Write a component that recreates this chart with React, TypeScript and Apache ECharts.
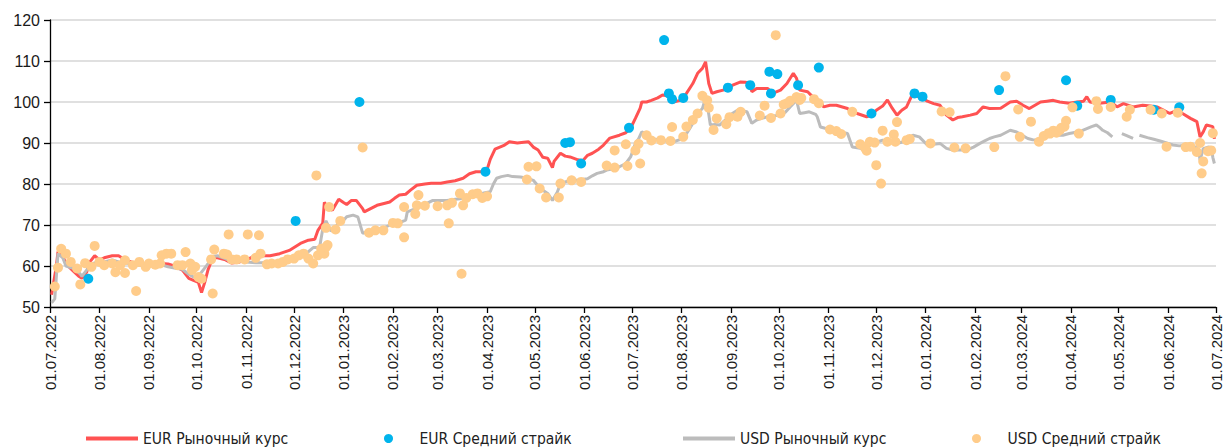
import React, { useEffect, useRef } from "react";
import * as echarts from "echarts";

// Day offsets are counted from 01.07.2022
const START = { y: 2022, m: 6, d: 1 };
const END_DAY = 731;

const eurRateDays = [1,4,5,8,10,14,18,20,23,25,28,31,34,39,43,47,51,56,61,66,70,74,78,83,87,90,93,95,97,99,102,105,110,114,119,123,129,133,138,144,150,157,162,166,168,171,172,174,177,181,184,186,189,192,196,197,201,205,210,213,216,219,223,226,230,235,239,245,249,254,259,263,267,271,274,276,279,282,285,288,293,297,300,303,306,309,312,315,316,320,323,326,331,334,337,340,344,347,351,357,361,364,367,370,371,374,377,381,384,387,391,395,399,403,406,409,411,413,415,418,422,425,428,433,436,439,440,443,450,453,458,462,466,468,470,475,478,482,485,489,493,500,506,512,515,518,522,525,528,531,534,537,540,541,544,547,550,554,558,562,566,569,572,577,581,585,589,596,602,606,610,614,621,625,629,633,639,644,648,650,652,655,658,665,669,673,679,685,690,694,698,702,707,710,715,719,721,723,725,729,730];
const eurRate = [53,60,63.5,62.5,60.5,59,57.5,57,58.5,61,62.5,61.5,62,62.5,62.5,61.5,61,60.5,60.3,60.3,60.6,60.5,60,59,57,56.5,56,53.5,56,59,62,62,61.5,60.7,61,61.5,62.5,62.5,62.5,63,63.8,65.5,66.3,66.5,68.7,70.5,75.5,74.5,73.6,76.3,75.5,75,76,76,74,73.2,74,74.8,75.3,75.6,76.5,77.3,77.5,78.5,79.7,80,80.2,80.2,80.5,80.8,81.4,82.5,83,83,83.5,86,88.5,89,89.5,90.3,90,90.2,90.3,89,88.3,86.5,86.3,84,85.5,87.5,86.8,86.6,85.9,85.7,87,87.5,88.5,89.5,91.2,91.9,92.5,93.6,96,98.5,100,100,100.4,101,101.7,101.5,100,100.4,102.1,104.5,107,108.2,109.8,104.5,102.1,102.5,102.9,103.5,104.1,104.9,104.8,104.5,102.5,103.3,103.3,102.1,102.9,104.5,107,105.8,102.9,102.5,101.3,100.4,98.8,99.2,99.2,98.4,97.2,96.4,96.8,98,99,100.5,98.5,96.8,98,98.8,101.3,102,101.3,101,100.2,99.6,99.2,96.8,95.6,96.2,96.4,96.8,97.2,98.8,98.4,98.5,100,100.2,99.2,98.4,100,100.2,100.4,100,99.7,100,100.2,101.3,100,99.8,99.7,100,98.8,99.6,98.8,99.2,99,98.8,98,97.2,98,97.2,96,95.2,91.5,92.7,94.4,94,91];

const usdRateDays = [1,3,5,8,10,14,18,20,23,26,30,34,39,43,47,51,56,61,66,70,74,78,83,87,90,93,96,99,102,105,110,114,119,123,129,133,138,144,150,153,159,165,169,171,173,176,179,181,183,186,190,193,196,201,205,209,213,218,223,224,228,232,236,240,245,249,253,257,262,268,272,276,278,280,283,287,290,295,299,303,306,309,312,315,318,320,323,326,331,337,340,343,347,349,354,357,361,364,367,369,371,374,376,379,382,387,391,394,397,399,401,404,406,409,411,413,414,417,420,424,427,431,434,437,440,443,446,450,453,458,461,464,467,468,470,473,476,480,481,483,486,489,492,495,500,503,507,510,513,516,519,522,525,529,532,535,538,541,545,550,554,558,562,566,570,575,579,583,586,589,592,596,599,602,606,609,613,616,619,622,625,630,635,639,644,647,650,653,656,658,660,663,666,669,672,675,679,681,683,688,692,696,700,704,708,712,715,718,720,721,723,726,728,729,730];
const usdRate = [51,52,63,62,60,59.5,58.5,57.5,59,60.5,61,61,61.5,61,60.8,60.5,60.2,60.2,60.3,60.3,59.8,59.5,59.2,58,57.3,57.5,59,60.5,62.3,62.5,61.8,61,61.2,61,60.8,60.8,61,60.8,61.2,61.5,62.5,64.5,64.5,69,71,68.6,69,71,70.7,72,72.4,72,68,68.5,69,69.2,70,70.4,71.2,73.2,73.8,74.4,75.2,76,76,76,76.2,76.4,76.8,77.3,77.8,78.1,80,81.4,81.8,82.1,81.8,81.7,81.4,80.9,79.5,78.5,77.7,76,78,80,80.5,80.9,81,81.3,82,82.6,83,83.4,83.8,84.2,85,86.6,89.9,91,92.7,92.2,91.5,91,90.7,90.5,90.3,90.7,91.1,92.3,93.5,95.5,97.2,98.4,101,97,94.4,94.5,94.4,95.8,97,98,97.8,97.6,94.8,95.6,96,96.4,96.6,96.8,97.5,98.8,100,100.5,97.2,97.4,97.6,97,96.4,93.9,93.6,93.5,93,92.7,92.3,89,88.8,88.6,89.2,89.9,90.3,90.7,90.3,89.9,90,90.3,91,91.9,91.5,89.5,89.7,89.9,88.7,88.3,88.3,88.3,89,89.9,90.5,91.1,91.5,91.9,92.5,93.1,92.7,92,91.1,90.8,90.7,91.3,91.9,91.9,91.9,92.3,92.7,93,93.5,94,94.4,93.8,93.1,92.5,91.5,null,92.3,91.8,91.1,null,91.9,91.3,90.9,90.5,90,89.5,89.3,89.5,89.5,89,88.5,85.8,88.6,89,88.9,86.5,85];

const eurStrikeDays = [24,154,194,273,323,326,333,363,385,388,390,397,425,439,451,452,456,469,482,515,542,547,595,637,644,665,692,708];
const eurStrike = [56.9,71.0,100.0,83.0,90.0,90.2,85.0,93.7,115.1,102.1,100.7,101.0,103.5,104.1,107.4,102.1,106.8,104.1,108.4,97.2,102.1,101.3,102.9,105.3,99.1,100.5,98.1,98.7];

const usdStrikeDays = [3,5,7,10,13,17,19,22,26,28,31,34,39,41,44,47,47,52,54,56,60,62,66,69,70,73,76,80,83,85,88,89,91,93,95,101,102,103,109,111,112,114,117,122,124,129,131,132,136,139,143,146,149,153,156,159,162,165,167,168,170,172,173,174,173,175,179,182,196,200,204,209,215,218,222,222,229,230,231,235,243,249,250,252,257,258,259,261,265,268,271,274,299,300,305,307,311,319,320,327,333,349,354,354,361,362,367,369,370,374,377,383,389,390,397,399,403,406,409,412,413,416,418,424,426,431,433,445,448,452,455,458,460,462,464,468,470,471,479,482,489,493,496,503,508,511,512,514,517,518,521,522,525,529,530,531,537,539,552,559,564,567,574,592,599,607,608,615,620,623,626,627,629,631,633,634,636,637,641,645,656,657,665,675,677,690,697,700,707,712,715,719,721,722,723,726,728,729];
const usdStrike = [55.0,59.6,64.2,63.0,61.0,59.4,55.5,60.7,59.8,64.9,61.0,60.2,60.6,58.5,60.2,58.3,61.4,60.2,53.9,61.0,59.8,60.6,60.3,60.6,62.6,63.0,63.0,60.2,60.2,63.4,60.6,59.0,59.8,57.3,56.9,61.6,53.3,64.0,63.0,62.8,67.7,61.6,61.6,61.6,67.7,62.0,67.5,63.0,60.4,60.6,60.6,61.0,61.6,61.8,62.6,63.0,61.8,60.6,82.1,62.6,64.2,63.0,64.6,65.1,69.3,74.4,68.9,71.0,88.9,68.1,68.7,68.7,70.5,70.4,67.0,74.4,72.7,74.8,77.3,74.7,74.6,74.8,70.4,75.4,77.7,58.1,74.8,76.6,77.5,77.7,76.6,77.0,81.1,84.2,84.3,78.9,76.7,76.7,80.1,80.9,80.5,84.5,88.2,84.0,89.7,84.4,88.2,89.8,85.0,91.9,90.6,90.7,90.5,93.9,91.5,94.0,95.6,97.2,101.5,100.4,98.6,93.2,96.0,94.6,96.3,96.4,97.6,96.7,99.1,96.1,116.3,97.2,99.4,99.7,100.3,101.2,100.5,101.0,100.7,99.7,93.3,92.9,92.2,97.6,89.7,88.8,88.1,90.3,90.1,84.6,80.1,93.0,90.3,92.1,90.3,95.1,90.7,91.0,89.9,97.7,97.5,88.9,88.7,89.0,106.3,98.2,91.5,95.2,90.3,91.7,92.4,92.3,93.0,92.5,93.1,93.7,94.0,95.4,98.7,92.3,100.2,98.3,98.8,96.4,98.1,98.1,97.2,89.1,97.4,89.0,89.1,87.8,90.0,82.6,85.5,88.0,88.2,92.4];

const seriesNames = ["EUR Рыночный курс", "EUR Средний страйк", "USD Рыночный курс", "USD Средний страйк"];
const yTicks = { min: 50, max: 120, step: 10 };

const toTime = (d: number) => new Date(START.y, START.m, START.d + d).getTime();
const pairs = (days: number[], vals: (number | null)[]) => days.map((d, i) => [toTime(d), vals[i]]);
const pad = (n: number) => (n < 10 ? "0" + n : "" + n);

const RED = "#FF5252";
const BLUE = "#00B4EC";
const GRAY = "#BCBCBC";
const ORANGE = "#FFCC8A";
const LEG_FONT = "'Liberation Sans Narrow', 'DejaVu Sans Condensed', 'Roboto', sans-serif";
const AX_FONT = "'Liberation Sans', Arial, sans-serif";

export default function App() {
  const ref = useRef<HTMLDivElement>(null);
  useEffect(() => {
    if (!ref.current) return;
    const chart = echarts.init(ref.current, null, { renderer: "svg" });
    const legendBase = {
      top: 430,
      padding: 0,
      itemWidth: 52,
      textStyle: { fontFamily: LEG_FONT, fontSize: 15.5, color: "#222", lineHeight: 17 },
      selectedMode: false,
    };
    chart.setOption({
      animation: false,
      backgroundColor: "#fff",
      grid: { left: 50, top: 20, width: 1166, height: 287, containLabel: false },
      legend: [
        { ...legendBase, left: 86, itemHeight: 4, data: [{ name: seriesNames[0], icon: "rect" }] },
        { ...legendBase, left: 384, itemHeight: 9, data: [{ name: seriesNames[1], icon: "circle" }] },
        { ...legendBase, left: 683, itemHeight: 4, data: [{ name: seriesNames[2], icon: "rect" }] },
        { ...legendBase, left: 972, itemHeight: 9, data: [{ name: seriesNames[3], icon: "circle" }] },
      ],
      xAxis: {
        type: "time",
        min: toTime(0),
        max: toTime(END_DAY),
        splitNumber: 24,
        minInterval: 28 * 86400000,
        maxInterval: 31 * 86400000,
        axisLine: { show: true, lineStyle: { color: "#000", width: 1.3 } },
        axisTick: { show: true, length: 6, lineStyle: { color: "#000", width: 1.3 } },
        splitLine: { show: false },
        axisLabel: {
          rotate: 90,
          margin: 8,
          fontSize: 15,
          fontFamily: AX_FONT,
          color: "#1a1a1a",
          showMinLabel: true,
          showMaxLabel: true,
          formatter: (v: number) => {
            const dt = new Date(v);
            return pad(dt.getDate()) + "." + pad(dt.getMonth() + 1) + "." + dt.getFullYear();
          },
        },
      },
      yAxis: {
        type: "value",
        min: yTicks.min,
        max: yTicks.max,
        interval: yTicks.step,
        axisLine: { show: true, lineStyle: { color: "#000", width: 1.3 } },
        axisTick: { show: true, length: 6, lineStyle: { color: "#000", width: 1.3 } },
        splitLine: { show: true, lineStyle: { color: "#D6D6D6", width: 1.5 } },
        axisLabel: { fontSize: 16, fontFamily: AX_FONT, color: "#1a1a1a", margin: 10 },
      },
      series: [
        {
          name: seriesNames[0],
          type: "line",
          data: pairs(eurRateDays, eurRate),
          symbol: "none",
          lineStyle: { color: RED, width: 3 },
          itemStyle: { color: RED },
          z: 2,
        },
        {
          name: seriesNames[1],
          type: "scatter",
          data: pairs(eurStrikeDays, eurStrike),
          symbol: "circle",
          symbolSize: 10,
          itemStyle: { color: BLUE, opacity: 1 },
          z: 3,
        },
        {
          name: seriesNames[2],
          type: "line",
          data: pairs(usdRateDays, usdRate),
          symbol: "none",
          connectNulls: false,
          lineStyle: { color: GRAY, width: 3 },
          itemStyle: { color: GRAY },
          z: 4,
        },
        {
          name: seriesNames[3],
          type: "scatter",
          data: pairs(usdStrikeDays, usdStrike),
          symbol: "circle",
          symbolSize: 10,
          itemStyle: { color: ORANGE, opacity: 1 },
          z: 5,
        },
      ],
    });
    return () => chart.dispose();
  }, []);
  return (
    <div
      ref={ref}
      style={{ position: "absolute", left: 0, top: 0, width: 1228, height: 448 }}
    />
  );
}
